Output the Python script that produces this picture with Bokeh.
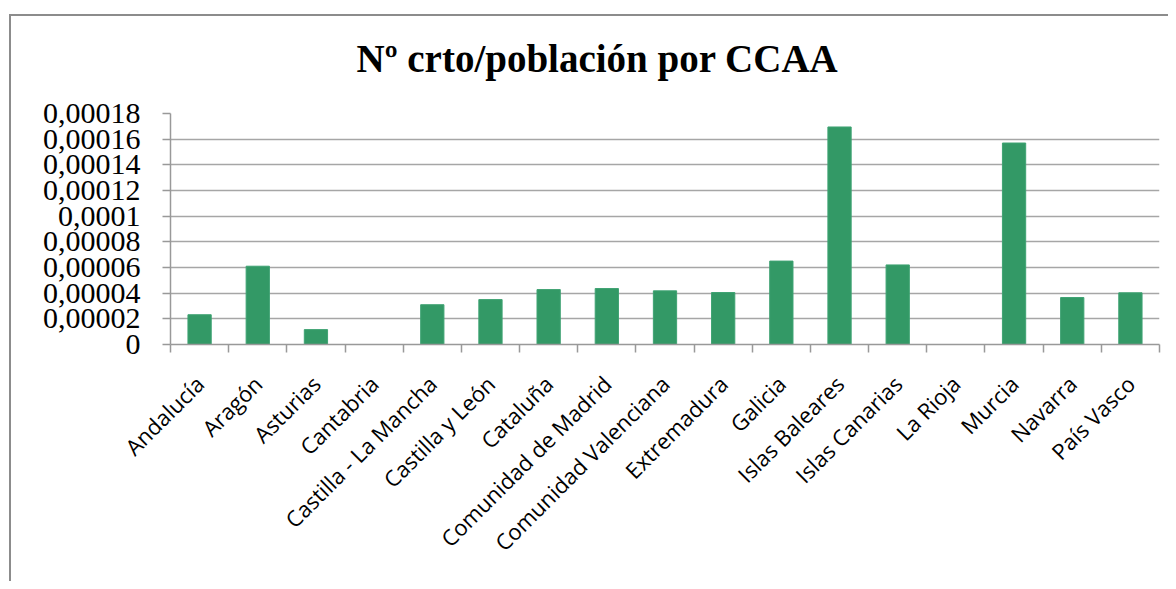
from bokeh.plotting import figure
from bokeh.models import FixedTicker, LinearAxis, Range1d, ColumnDataSource
from bokeh.embed import file_html
from bokeh.resources import INLINE
import math

regions = ["Andalucía", "Aragón", "Asturias", "Cantabria", "Castilla - La Mancha",
           "Castilla y León", "Cataluña", "Comunidad de Madrid", "Comunidad Valenciana",
           "Extremadura", "Galicia", "Islas Baleares", "Islas Canarias", "La Rioja",
           "Murcia", "Navarra", "País Vasco"]
ratio = [0.0000232, 0.0000610, 0.0000116, 0.0, 0.0000310,
         0.0000350, 0.0000428, 0.0000436, 0.0000418,
         0.0000405, 0.0000650, 0.0001695, 0.0000620, 0.0,
         0.0001570, 0.0000366, 0.0000403]
y_ticks = [0.0, 0.00002, 0.00004, 0.00006, 0.00008, 0.0001, 0.00012, 0.00014, 0.00016, 0.00018]
y_tick_labels = ["0", "0,00002", "0,00004", "0,00006", "0,00008", "0,0001",
                 "0,00012", "0,00014", "0,00016", "0,00018"]
title_text = "Nº crto/población  por CCAA"

n = len(regions)
centers = [i + 0.5 for i in range(n)]
boundaries = list(range(n + 1))
src = ColumnDataSource(dict(region=regions, x=centers, ratio=ratio))

p = figure(width=1168, height=581, x_range=Range1d(0, n), y_range=Range1d(0, 0.00018),
           output_backend="svg", toolbar_location=None, x_axis_location=None,
           y_axis_location=None, min_border_left=170, min_border_right=9,
           min_border_top=113, min_border_bottom=237)
# thin chart-area border (top and left) drawn behind a transparent canvas border
p.styles = {
    "background": ("linear-gradient(#8c8c8c,#8c8c8c) 9px 14px / calc(100% - 9px) 2px no-repeat, "
                   "linear-gradient(#8c8c8c,#8c8c8c) 9px 14px / 2px calc(100% - 14px) no-repeat, "
                   "white")
}
p.outline_line_color = None
p.background_fill_color = "white"
p.border_fill_alpha = 0

p.title.text = title_text
p.title.text_font = "Liberation Serif"
p.title.text_font_style = "bold"
p.title.text_font_size = "39px"
p.title.text_color = "black"
p.title.align = "left"
p.title.offset = 186
p.title.standoff = 67

p.vbar(x="x", top="ratio", width=0.4, source=src,
       fill_color="#339966", line_color="#3fa373", line_width=1)

# y axis
yax = LinearAxis(ticker=FixedTicker(ticks=y_ticks))
yax.major_label_overrides = {t: l for t, l in zip(y_ticks, y_tick_labels)}
yax.major_label_text_font = "Liberation Serif"
yax.major_label_text_font_size = "30px"
yax.major_label_text_color = "black"
yax.major_label_standoff = 22
yax.axis_line_color = "#999999"
yax.axis_line_width = 1.5
yax.major_tick_line_color = "#999999"
yax.major_tick_line_width = 1.5
yax.major_tick_out = 8
yax.major_tick_in = 0
yax.minor_tick_line_color = None
p.add_layout(yax, "left")

# category axis: labels at centers, ticks at boundaries (minor ticks)
cax = LinearAxis(ticker=FixedTicker(ticks=centers, minor_ticks=boundaries))
cax.major_label_overrides = {c: r for c, r in zip(centers, regions)}
cax.axis_line_color = "#999999"
cax.axis_line_width = 1.5
cax.major_tick_line_color = None
cax.major_tick_out = 8
cax.major_tick_in = 0
cax.minor_tick_line_color = "#999999"
cax.minor_tick_line_width = 1.5
cax.minor_tick_out = 8
cax.minor_tick_in = 0
cax.major_label_orientation = math.pi / 4
cax.major_label_text_font = "Open Sans"
cax.major_label_text_font_size = "22px"
cax.major_label_text_color = "black"
cax.major_label_standoff = 27
p.add_layout(cax, "below")

p.xgrid.grid_line_color = None
p.ygrid.ticker = FixedTicker(ticks=y_ticks)
p.ygrid.grid_line_color = "#a6a6a6"
p.ygrid.grid_line_width = 1.5

open("out.html", "w").write(file_html(p, INLINE))
